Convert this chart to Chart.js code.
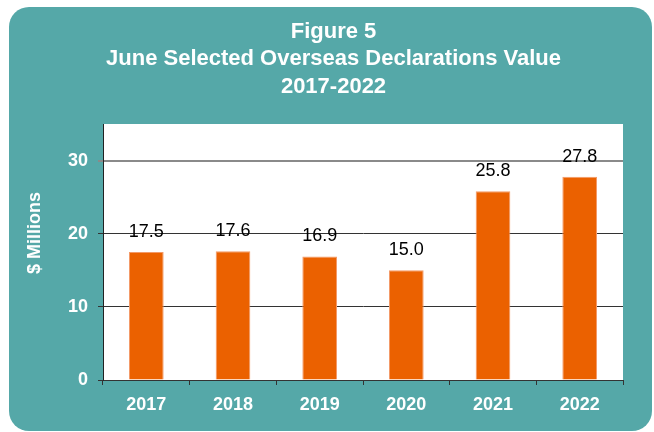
<!DOCTYPE html>
<html>
<head>
<meta charset="utf-8">
<script src="https://cdn.jsdelivr.net/npm/chart.js@4/dist/chart.umd.min.js"></script>
<style>
  html, body { margin: 0; padding: 0; background: #ffffff; }
  #wrap { width: 654px; height: 432px; }
</style>
</head>
<body>
<div id="wrap"><canvas id="c" width="654" height="432"></canvas></div>
<script>
const titleLines = ["Figure 5", "June Selected Overseas Declarations Value", "2017-2022"];
const yAxisTitle = "$ Millions";
const categories = ["2017", "2018", "2019", "2020", "2021", "2022"];
const values = [17.5, 17.6, 16.9, 15.0, 25.8, 27.8];
const yTicks = [0, 10, 20, 30];

const TEAL = "#55A8A8";
const ORANGE = "#EB6100";
const FONT = "'Liberation Sans', Arial, sans-serif";

const panelPlugin = {
  id: "panel",
  beforeDraw(chart) {
    const ctx = chart.ctx;
    const ca = chart.chartArea;
    ctx.save();
    ctx.fillStyle = "#ffffff";
    ctx.fillRect(0, 0, chart.width, chart.height);
    ctx.fillStyle = TEAL;
    ctx.beginPath();
    ctx.roundRect(9, 7, 643, 424, 20);
    ctx.fill();
    ctx.fillStyle = "#ffffff";
    ctx.fillRect(ca.left, ca.top, ca.right - ca.left, ca.bottom - ca.top);
    ctx.restore();
  },
  afterDraw(chart) {
    const ctx = chart.ctx;
    ctx.save();
    ctx.translate(35, 233);
    ctx.rotate(-Math.PI / 2);
    ctx.fillStyle = "#ffffff";
    ctx.font = "bold 18px " + FONT;
    ctx.textAlign = "center";
    ctx.textBaseline = "middle";
    ctx.fillText(yAxisTitle, 0, 0);
    ctx.restore();
  }
};

const labelPlugin = {
  id: "barLabels",
  afterDatasetsDraw(chart) {
    const ctx = chart.ctx;
    const meta = chart.getDatasetMeta(0);
    ctx.save();
    ctx.fillStyle = "#000000";
    ctx.font = "18px " + FONT;
    ctx.textAlign = "center";
    ctx.textBaseline = "alphabetic";
    meta.data.forEach((bar, i) => {
      ctx.fillText(values[i].toFixed(1), bar.x, bar.y - 15);
    });
    ctx.restore();
  }
};

new Chart(document.getElementById("c"), {
  type: "bar",
  data: {
    labels: categories,
    datasets: [{
      data: values,
      backgroundColor: ORANGE,
      borderColor: "#F39A68",
      borderWidth: 1,
      barPercentage: 0.4,
      categoryPercentage: 1.0
    }]
  },
  options: {
    responsive: false,
    animation: false,
    layout: { padding: { left: 44, right: 31, top: 0, bottom: 0 } },
    plugins: {
      legend: { display: false },
      tooltip: { enabled: false },
      title: {
        display: true,
        text: titleLines,
        color: "#ffffff",
        font: { family: FONT, size: 22, weight: "bold", lineHeight: 1.25 },
        padding: { top: 18, bottom: 23.5 }
      }
    },
    scales: {
      x: {
        offset: true,
        afterFit(scale) { scale.height = 52; },
        grid: {
          offset: true,
          drawOnChartArea: false,
          drawTicks: true,
          tickLength: 5,
          color: "#333333",
          lineWidth: 1
        },
        border: { display: true, color: "#333333", width: 1 },
        ticks: {
          color: "#ffffff",
          font: { family: FONT, size: 18, weight: "bold" },
          padding: 9,
          maxRotation: 0
        }
      },
      y: {
        min: 0,
        max: 35,
        afterFit(scale) { scale.width = 59; },
        afterBuildTicks(scale) { scale.ticks = yTicks.map(v => ({ value: v })); },
        grid: {
          drawTicks: true,
          tickLength: 5,
          color: (c) => (c.tick && c.tick.value === 30) ? "#8a8a8a" : "#333333",
          lineWidth: (c) => (c.tick && c.tick.value === 30) ? 2 : 1
        },
        border: { display: true, color: "#222222", width: 1 },
        ticks: {
          color: "#ffffff",
          font: { family: FONT, size: 18, weight: "bold" },
          padding: 10
        }
      }
    }
  },
  plugins: [panelPlugin, labelPlugin]
});
</script>
</body>
</html>
